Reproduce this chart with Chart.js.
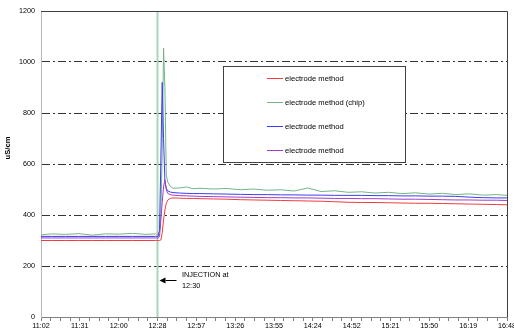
<!DOCTYPE html>
<html>
<head>
<meta charset="utf-8">
<script src="https://cdn.jsdelivr.net/npm/chart.js@4.4.0/dist/chart.umd.min.js"></script>
<style>
html, body { margin: 0; padding: 0; background: #fff; }
#wrap { width: 514px; height: 336px; }
</style>
</head>
<body>
<div id="wrap"><canvas id="chart" width="514" height="336"></canvas></div>
<script>
// sample times (hh:mm)
var times = ["11:02", "11:10", "11:20", "11:30", "11:40", "11:50", "12:00", "12:10", "12:20", "12:27", "12:28",
  "12:29", "12:30", "12:31", "12:32", "12:33", "12:34", "12:35", "12:36", "12:38", "12:40",
  "12:45", "12:50", "12:55", "13:00", "13:10", "13:20", "13:30", "13:40", "13:50", "14:00", "14:10", "14:20",
  "14:30", "14:40", "14:50", "15:00", "15:10", "15:20", "15:30", "15:40", "15:50", "16:00", "16:10", "16:20",
  "16:30", "16:40", "16:48"];

var redValues = [300, 300, 300, 300, 300, 300, 300, 300, 300, 300, 300,
  300, 300, 302, 330, 380, 420, 445, 458, 465, 467,
  466, 465, 465, 464, 463, 462, 460, 459, 458, 457, 456, 455,
  454, 452, 450, 449, 449, 448, 447, 446, 446, 445, 444, 443,
  442, 441, 440];
var chipValues = [322, 326, 324, 327, 321, 326, 325, 328, 324, 326, 322,
  328, 335, 400, 650, 1055, 900, 560, 530, 512, 505,
  506, 510, 503, 505, 502, 504, 499, 502, 497, 499, 494, 506,
  492, 495, 489, 491, 486, 489, 484, 487, 482, 485, 480, 483,
  478, 480, 477];
var blueValues = [316, 316, 316, 316, 316, 316, 316, 316, 316, 316, 316,
  316, 340, 620, 920, 700, 530, 505, 495, 490, 488,
  486, 485, 484, 484, 483, 482, 481, 480, 480, 479, 479, 478,
  478, 477, 477, 477, 476, 476, 475, 475, 474, 474, 473, 470,
  468, 467, 467];
var purpleValues = [310, 310, 310, 310, 310, 310, 310, 310, 310, 310, 310,
  310, 315, 380, 450, 510, 538, 500, 485, 480, 478,
  476, 475, 474, 473, 472, 471, 470, 469, 468, 468, 467, 467,
  466, 465, 465, 464, 464, 463, 462, 462, 461, 460, 459, 459,
  458, 458, 457];

var seriesLabels = ["electrode method", "electrode method (chip)", "electrode method", "electrode method"];
var seriesColors = ["#f03c3c", "#72b486", "#3c3cf0", "#a03cc8"];

var xTickLabels = ["11:02", "11:31", "12:00", "12:28", "12:57", "13:26", "13:55", "14:24", "14:52", "15:21", "15:50", "16:19", "16:48"];
var yMax = 1200;
var yStep = 200;

var injectionTime = "12:28:30";
var injectionText = ["INJECTION at", "12:30"];
var yTitle = "uS/cm";

var FONT = "'Liberation Sans', Arial, sans-serif";

function toMin(s) {
  var p = s.split(':');
  return (+p[0]) * 60 + (+p[1]) + (p[2] ? (+p[2]) / 60 : 0);
}
function pts(vals) {
  return vals.map(function(v, i) { return { x: toMin(times[i]), y: v }; });
}

var xMin = toMin(xTickLabels[0]);
var xMax = toMin(xTickLabels[xTickLabels.length - 1]);
var minorPerMajor = 4;

var extras = {
  id: 'extras',
  afterDraw: function(chart) {
    var ctx = chart.ctx;
    var a = chart.chartArea;
    var xs = chart.scales.x;
    ctx.save();

    // top + right frame
    ctx.strokeStyle = '#404040';
    ctx.lineWidth = 1;
    ctx.beginPath();
    ctx.moveTo(a.left, a.top + 0.5);
    ctx.lineTo(a.right + 0.5, a.top + 0.5);
    ctx.lineTo(a.right + 0.5, a.bottom);
    ctx.stroke();

    // legend box
    var bx = 223.5, by = 66.5, bw = 182, bh = 96;
    ctx.fillStyle = '#fff';
    ctx.fillRect(bx, by, bw, bh);
    ctx.strokeStyle = '#404040';
    ctx.strokeRect(bx, by, bw, bh);
    var rows = [78.5, 102.5, 126.5, 150.5];
    ctx.font = '7.6px ' + FONT;
    ctx.textBaseline = 'middle';
    ctx.textAlign = 'left';
    for (var i = 0; i < seriesLabels.length; i++) {
      ctx.strokeStyle = seriesColors[i];
      ctx.beginPath();
      ctx.moveTo(267, rows[i]);
      ctx.lineTo(283, rows[i]);
      ctx.stroke();
      ctx.fillStyle = '#000';
      ctx.fillText(seriesLabels[i], 285, rows[i]);
    }

    // injection arrow and note
    var tip = xs.getPixelForValue(toMin(injectionTime)) + 2;
    var ay = 280.5;
    ctx.fillStyle = '#000';
    ctx.strokeStyle = '#000';
    ctx.beginPath();
    ctx.moveTo(tip, ay);
    ctx.lineTo(tip + 6, ay - 3);
    ctx.lineTo(tip + 6, ay + 3);
    ctx.closePath();
    ctx.fill();
    ctx.beginPath();
    ctx.moveTo(tip + 6, ay);
    ctx.lineTo(tip + 17, ay);
    ctx.stroke();
    ctx.font = '7.3px ' + FONT;
    ctx.fillText(injectionText[0], 182, 275);
    ctx.fillText(injectionText[1], 182, 286);

    // y title
    ctx.translate(8, 148);
    ctx.rotate(-Math.PI / 2);
    ctx.textAlign = 'center';
    ctx.font = 'bold 7.6px ' + FONT;
    ctx.fillText(yTitle, 0, 0);
    ctx.restore();
  }
};

function line(label, vals, color) {
  return {
    label: label,
    data: pts(vals),
    borderColor: color,
    borderWidth: 1,
    pointRadius: 0,
    tension: 0,
    fill: false,
    order: 1
  };
}

var ctxc = document.getElementById('chart').getContext('2d');
var chart = new Chart(ctxc, {
  type: 'line',
  data: {
    datasets: [
      line(seriesLabels[3], purpleValues, seriesColors[3]),
      line(seriesLabels[2], blueValues, seriesColors[2]),
      line(seriesLabels[1], chipValues, seriesColors[1]),
      line(seriesLabels[0], redValues, seriesColors[0]),
      {
        label: 'injection',
        data: [{ x: toMin(injectionTime), y: 0 }, { x: toMin(injectionTime), y: yMax }],
        borderColor: '#aad6bb',
        borderWidth: 2,
        pointRadius: 0,
        order: 10
      }
    ]
  },
  options: {
    responsive: false,
    animation: false,
    layout: { padding: { left: 0, top: 11, right: 7, bottom: 0 } },
    plugins: { legend: { display: false }, tooltip: { enabled: false } },
    scales: {
      x: {
        type: 'linear',
        min: xMin,
        max: xMax,
        afterBuildTicks: function(scale) {
          var step = (xMax - xMin) / (xTickLabels.length - 1) / minorPerMajor;
          var t = [];
          for (var i = 0; i <= (xTickLabels.length - 1) * minorPerMajor; i++) {
            t.push({ value: xMin + i * step });
          }
          scale.ticks = t;
        },
        afterFit: function(scale) {
          scale.height = 19;
          scale.paddingLeft = 0;
          scale.paddingRight = 0;
        },
        ticks: {
          autoSkip: false,
          maxRotation: 0,
          padding: 1,
          color: '#000',
          font: { family: FONT, size: 7.2 },
          callback: function(v, i) {
            return i % minorPerMajor === 0 ? xTickLabels[i / minorPerMajor] : '';
          }
        },
        grid: {
          drawOnChartArea: false,
          drawTicks: true,
          tickLength: 4,
          color: '#808080'
        },
        border: { color: '#808080', width: 1 }
      },
      y: {
        min: 0,
        max: yMax,
        afterFit: function(scale) { scale.width = 41; },
        ticks: {
          stepSize: yStep,
          padding: 6,
          color: '#000',
          font: { family: FONT, size: 7.2 },
          callback: function(v) { return String(v); }
        },
        grid: {
          drawTicks: false,
          color: function(c) {
            return (c.tick.value === 0 || c.tick.value === yMax) ? 'rgba(0,0,0,0)' : '#333';
          }
        },
        border: { color: '#b8b8b8', width: 1, dash: [8, 3, 2, 3] }
      }
    }
  },
  plugins: [extras]
});
</script>
</body>
</html>
